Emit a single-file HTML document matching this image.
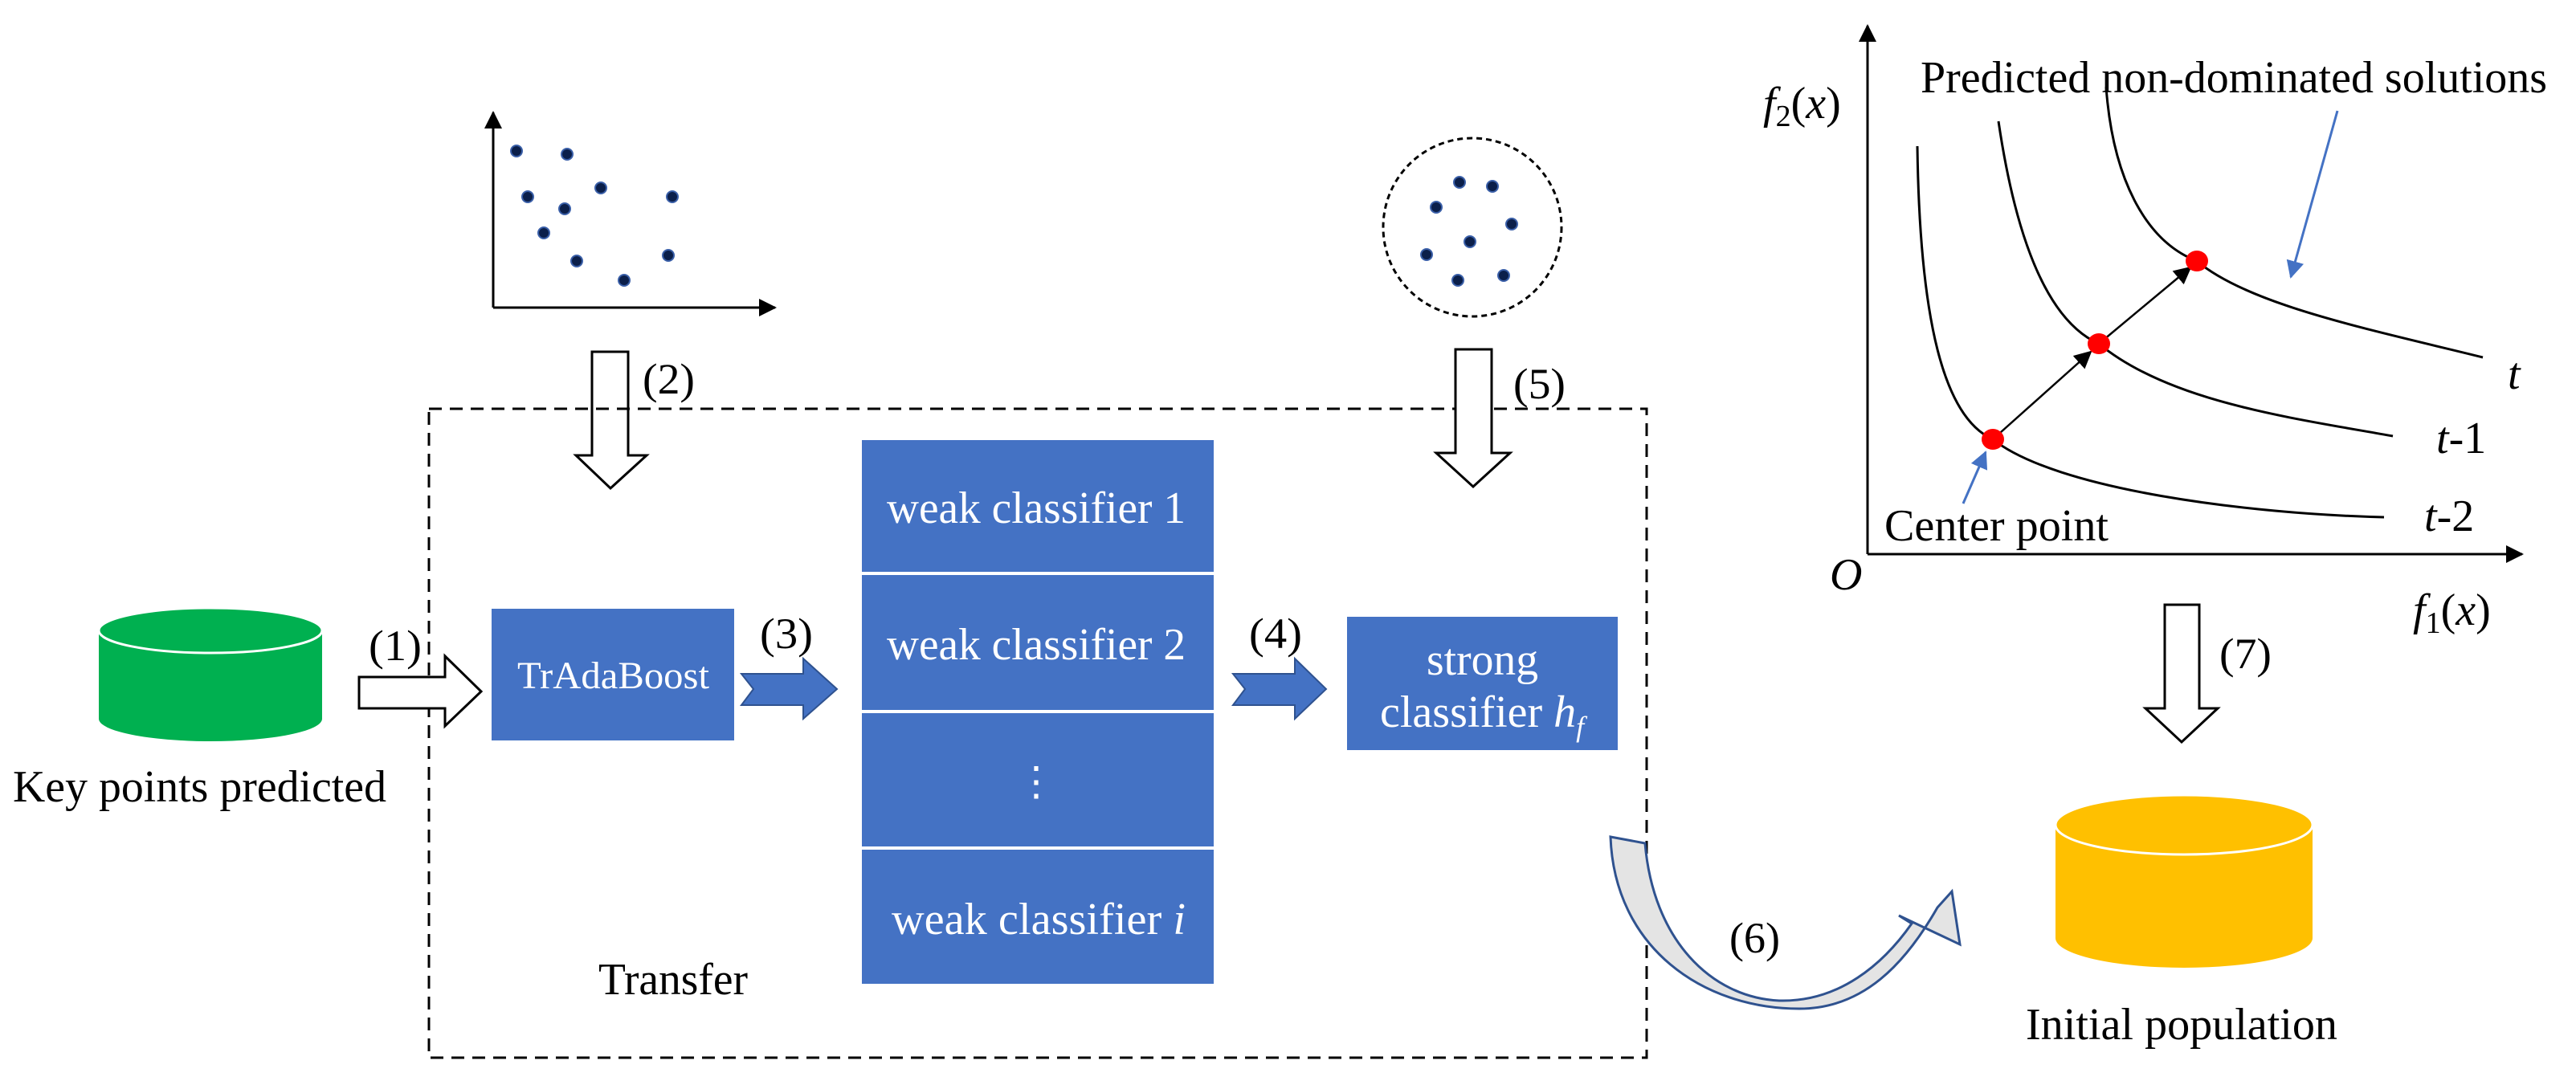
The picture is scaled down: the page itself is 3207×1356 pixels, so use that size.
<!DOCTYPE html>
<html><head><meta charset="utf-8"><style>
html,body{margin:0;padding:0;background:#fff}
svg{display:block}
text{font-family:"Liberation Serif",serif;fill:#000}
.w{fill:#fff}
</style></head><body>
<svg width="3207" height="1356" viewBox="0 0 3207 1356" xmlns="http://www.w3.org/2000/svg">
<defs>
<marker id="abk" markerWidth="22" markerHeight="22" refX="20" refY="11" orient="auto" markerUnits="userSpaceOnUse"><path d="M0,0 L22,11 L0,22 Z" fill="#000"/></marker>
<marker id="abl" markerWidth="22" markerHeight="22" refX="20" refY="11" orient="auto" markerUnits="userSpaceOnUse"><path d="M0,0 L22,11 L0,22 Z" fill="#4472C4"/></marker>
</defs>

<!-- scatter plot -->
<line x1="614" y1="383" x2="614" y2="140" stroke="#000" stroke-width="3" marker-end="url(#abk)"/>
<line x1="614" y1="383" x2="965" y2="383" stroke="#000" stroke-width="3" marker-end="url(#abk)"/>
<g fill="#0b1f4a" stroke="#3a5fa8" stroke-width="2">
<circle cx="643" cy="188" r="7"/><circle cx="706" cy="192" r="7"/><circle cx="657" cy="245" r="7"/>
<circle cx="748" cy="234" r="7"/><circle cx="837" cy="245" r="7"/><circle cx="703" cy="260" r="7"/>
<circle cx="677" cy="290" r="7"/><circle cx="718" cy="325" r="7"/><circle cx="832" cy="318" r="7"/>
<circle cx="777" cy="349" r="7"/>
</g>

<!-- arrow 2 -->
<path d="M737,438 L782,438 L782,567 L805,567 L760,608 L717,567 L737,567 Z" fill="#fff" stroke="#000" stroke-width="3"/>
<text x="800" y="490" font-size="54" textLength="65" lengthAdjust="spacingAndGlyphs">(2)</text>

<!-- dashed box -->
<rect x="534" y="509" width="1516" height="808" fill="none" stroke="#000" stroke-width="3" stroke-dasharray="16,10"/>

<!-- green cylinder -->
<path d="M123,785 L123,895 A139,28 0 0 0 401,895 L401,785 Z" fill="#00B050"/>
<ellipse cx="262" cy="785" rx="139" ry="28" fill="#00B050" stroke="#fff" stroke-width="3"/>
<text x="16" y="998" font-size="56" textLength="465" lengthAdjust="spacingAndGlyphs">Key points predicted</text>

<!-- arrow 1 -->
<path d="M447,843 L554,843 L554,817 L599,861 L554,904 L554,882 L447,882 Z" fill="#fff" stroke="#000" stroke-width="3"/>
<text x="459" y="822" font-size="54" textLength="66" lengthAdjust="spacingAndGlyphs">(1)</text>

<!-- TrAdaBoost -->
<rect x="612" y="758" width="302" height="164" fill="#4472C4"/>
<text x="644" y="857" font-size="48" class="w" textLength="239" lengthAdjust="spacingAndGlyphs">TrAdaBoost</text>

<!-- arrow 3 -->
<path d="M923,839 L1000,839 L1000,820 L1042,858 L1000,895 L1000,878 L923,878 L938,858 Z" fill="#4472C4" stroke="#2f528f" stroke-width="2"/>
<text x="946" y="807" font-size="54" textLength="66" lengthAdjust="spacingAndGlyphs">(3)</text>

<!-- weak stack -->
<rect x="1073" y="548" width="438" height="677" fill="#4472C4"/>
<g stroke="#fff" stroke-width="4"><line x1="1073" y1="714" x2="1511" y2="714"/><line x1="1073" y1="886" x2="1511" y2="886"/><line x1="1073" y1="1056" x2="1511" y2="1056"/></g>
<text x="1104" y="651" font-size="56" class="w" textLength="372" lengthAdjust="spacingAndGlyphs">weak classifier 1</text>
<text x="1104" y="821" font-size="56" class="w" textLength="372" lengthAdjust="spacingAndGlyphs">weak classifier 2</text>
<text x="1290" y="990" font-size="50" text-anchor="middle" class="w">⋮</text>
<text x="1110" y="1163" font-size="56" class="w" textLength="366" lengthAdjust="spacingAndGlyphs">weak classifier <tspan font-style="italic">i</tspan></text>
<text x="745" y="1238" font-size="56" textLength="186" lengthAdjust="spacingAndGlyphs">Transfer</text>

<!-- arrow 4 -->
<path d="M1535,839 L1612,839 L1612,820 L1651,858 L1612,895 L1612,878 L1535,878 L1550,858 Z" fill="#4472C4" stroke="#2f528f" stroke-width="2"/>
<text x="1555" y="807" font-size="54" textLength="66" lengthAdjust="spacingAndGlyphs">(4)</text>

<!-- strong -->
<rect x="1677" y="768" width="337" height="166" fill="#4472C4"/>
<text x="1776" y="840" font-size="56" class="w" textLength="139" lengthAdjust="spacingAndGlyphs">strong</text>
<text x="1718" y="905" font-size="56" class="w">classifier <tspan font-style="italic">h</tspan><tspan font-style="italic" font-size="36" dy="12">f</tspan></text>

<!-- dashed circle -->
<circle cx="1833" cy="283" r="111" fill="none" stroke="#000" stroke-width="3" stroke-dasharray="7,5"/>
<g fill="#0b1f4a" stroke="#3a5fa8" stroke-width="2">
<circle cx="1817" cy="227" r="7"/><circle cx="1858" cy="232" r="7"/><circle cx="1788" cy="258" r="7"/>
<circle cx="1882" cy="279" r="7"/><circle cx="1830" cy="301" r="7"/><circle cx="1776" cy="317" r="7"/>
<circle cx="1815" cy="349" r="7"/><circle cx="1872" cy="343" r="7"/>
</g>

<!-- arrow 5 -->
<path d="M1812,435 L1857,435 L1857,564 L1880,564 L1834,606 L1788,564 L1812,564 Z" fill="#fff" stroke="#000" stroke-width="3"/>
<text x="1884" y="496" font-size="54" textLength="65" lengthAdjust="spacingAndGlyphs">(5)</text>

<!-- plot -->
<line x1="2325" y1="690" x2="2325" y2="32" stroke="#000" stroke-width="3" marker-end="url(#abk)"/>
<line x1="2325" y1="690" x2="3140" y2="690" stroke="#000" stroke-width="3" marker-end="url(#abk)"/>
<text x="2278" y="734" font-size="56" font-style="italic">O</text>
<text x="2195" y="147" font-size="56"><tspan font-style="italic">f</tspan><tspan font-size="38" dy="10">2</tspan><tspan dy="-10">(</tspan><tspan font-style="italic">x</tspan>)</text>
<text x="3004" y="778" font-size="56"><tspan font-style="italic">f</tspan><tspan font-size="38" dy="10">1</tspan><tspan dy="-10">(</tspan><tspan font-style="italic">x</tspan>)</text>
<g fill="none" stroke="#000" stroke-width="3">
<path d="M2387,182 C2390,400 2420,520 2481,547 C2560,610 2800,640 2968,644"/>
<path d="M2488,151 C2510,300 2550,400 2613,428 C2700,500 2850,520 2979,543"/>
<path d="M2622,108 C2630,220 2670,300 2735,325 C2800,380 2950,410 3091,445"/>
</g>
<g stroke="#000" stroke-width="2.5">
<line x1="2481" y1="547" x2="2603" y2="438" marker-end="url(#abk)"/>
<line x1="2613" y1="428" x2="2727" y2="333" marker-end="url(#abk)"/>
</g>
<g fill="#ff0000"><ellipse cx="2481" cy="547" rx="14" ry="13"/><ellipse cx="2613" cy="428" rx="14" ry="13"/><ellipse cx="2735" cy="325" rx="14" ry="13"/></g>
<text x="3122" y="484" font-size="56" font-style="italic">t</text>
<text x="3033" y="564" font-size="56"><tspan font-style="italic">t</tspan>-1</text>
<text x="3018" y="661" font-size="56"><tspan font-style="italic">t</tspan>-2</text>
<text x="2391" y="115" font-size="56" textLength="780" lengthAdjust="spacingAndGlyphs">Predicted non-dominated solutions</text>
<line x1="2910" y1="138" x2="2852" y2="345" stroke="#4472C4" stroke-width="3" marker-end="url(#abl)"/>
<text x="2346" y="673" font-size="56" textLength="279" lengthAdjust="spacingAndGlyphs">Center point</text>
<line x1="2444" y1="627" x2="2472" y2="563" stroke="#4472C4" stroke-width="3" marker-end="url(#abl)"/>

<!-- arrow 7 -->
<path d="M2695,753 L2738,753 L2738,882 L2761,882 L2716,924 L2671,882 L2695,882 Z" fill="#fff" stroke="#000" stroke-width="3"/>
<text x="2763" y="832" font-size="54" textLength="65" lengthAdjust="spacingAndGlyphs">(7)</text>

<!-- yellow cylinder -->
<path d="M2559,1027 L2559,1168 A160,37 0 0 0 2879,1168 L2879,1027 Z" fill="#FFC000"/>
<ellipse cx="2719" cy="1027" rx="160" ry="37" fill="#FFC000" stroke="#fff" stroke-width="3"/>
<text x="2522" y="1294" font-size="56" textLength="388" lengthAdjust="spacingAndGlyphs">Initial population</text>

<!-- arrow 6 -->
<path d="M2005,1042 L2048,1050 C2058,1170 2130,1242 2215,1246 C2290,1248 2345,1200 2380,1150 L2364,1140 L2440,1176 L2430,1110 L2412,1130 C2372,1200 2320,1256 2240,1256 C2120,1256 2010,1180 2005,1042 Z" fill="#e4e4e4" stroke="#2f528f" stroke-width="3"/>
<text x="2153" y="1186" font-size="54" textLength="63" lengthAdjust="spacingAndGlyphs">(6)</text>
</svg>
</body></html>
